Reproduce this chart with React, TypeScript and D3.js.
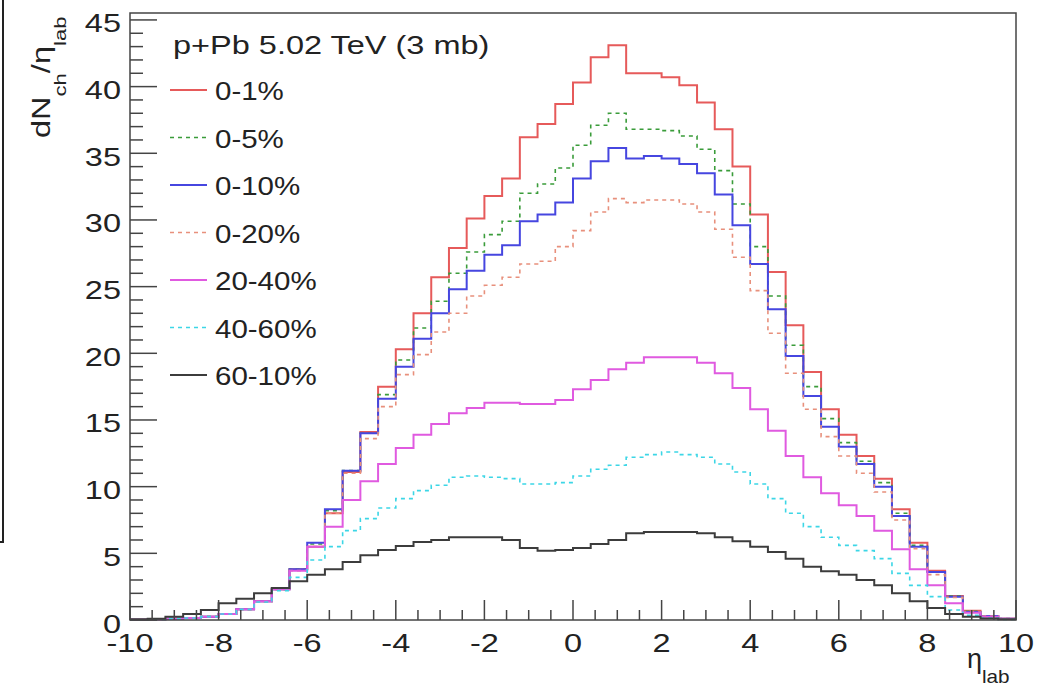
import React from "react";
import * as d3 from "d3";

// ---- data (bins of width 0.4 from -10 to 10) ----
const binLow = -10;
const binWidth = 0.4;

const seriesLabels = ["0-1%", "0-5%", "0-10%", "0-20%", "20-40%", "40-60%", "60-10%"];

const c0_1 = [0.02,0.05,0.1,0.15,0.25,0.45,0.8,1.4,2.3,3.8, 5.5,8.0,11.1,14.1,17.5,20.3,23.0,25.7,27.9,30.1, 31.8,33.1,36.2,37.2,38.7,40.3,42.2,43.1,41.0,41.0, 40.7,40.1,38.8,36.8,34.0,30.4,26.1,22.1,18.6,15.8, 13.9,12.3,10.6,8.3,5.8,3.7,1.8,0.7,0.3,0.1];
const c0_5 = [0.02,0.05,0.1,0.15,0.25,0.45,0.8,1.4,2.3,3.8, 5.7,8.2,11.2,14.0,16.9,19.5,21.9,23.9,26.0,27.6, 28.9,29.9,32.0,32.7,33.9,35.6,37.1,38.0,36.8,36.8, 36.7,36.3,35.3,33.7,31.2,28.0,24.3,20.6,17.5,15.1, 13.3,11.9,10.3,8.0,5.6,3.6,1.8,0.65,0.3,0.1];
const c0_10 = [0.02,0.05,0.1,0.15,0.25,0.45,0.8,1.4,2.3,3.8, 5.8,8.3,11.2,14.0,16.6,19.0,21.1,23.0,24.8,26.2, 27.4,28.1,29.9,30.4,31.3,33.1,34.4,35.4,34.6,34.8, 34.6,34.2,33.5,31.9,29.6,26.7,23.3,19.8,16.8,14.5, 13.0,11.7,10.0,7.8,5.5,3.6,1.75,0.6,0.3,0.1];
const c0_20 = [0.02,0.05,0.1,0.15,0.25,0.45,0.8,1.4,2.3,3.7, 5.5,8.0,11.0,13.6,16.0,18.4,19.9,21.6,23.0,24.3, 25.1,25.7,26.7,26.9,28.0,29.2,30.6,31.6,31.3,31.5, 31.5,31.2,30.6,29.3,27.2,24.7,21.5,18.5,15.8,13.75, 12.3,11.0,9.6,7.5,5.35,3.4,1.7,0.6,0.3,0.1];
const c20_40 = [0.02,0.05,0.1,0.15,0.25,0.45,0.8,1.4,2.3,3.7, 5.5,7.0,9.0,10.4,11.7,12.9,13.9,14.7,15.5,15.9, 16.3,16.3,16.2,16.2,16.5,17.3,18.0,18.8,19.3,19.7, 19.7,19.7,19.3,18.5,17.4,15.8,14.2,12.3,10.7,9.5, 8.6,7.8,6.7,5.3,3.8,2.6,1.25,0.55,0.25,0.1];
const c40_60 = [0.02,0.05,0.1,0.15,0.25,0.45,0.8,1.35,2.2,3.2, 4.5,5.5,6.7,7.6,8.4,9.1,9.7,10.1,10.7,10.8, 10.7,10.6,10.2,10.2,10.3,10.8,11.3,11.6,12.2,12.4, 12.6,12.4,12.2,11.7,11.1,10.2,9.1,8.0,7.0,6.2, 5.6,5.2,4.6,3.5,2.6,1.75,0.75,0.35,0.15,0.05];
const c60_100 = [0.05,0.1,0.25,0.45,0.75,1.25,1.6,2.0,2.4,2.9, 3.4,3.8,4.35,4.85,5.25,5.55,5.85,6.0,6.2,6.2, 6.2,6.0,5.4,5.2,5.25,5.4,5.7,6.0,6.5,6.6, 6.6,6.6,6.5,6.2,5.9,5.5,5.1,4.6,4.0,3.65, 3.4,3.0,2.6,2.0,1.4,0.9,0.45,0.25,0.12,0.05];

const seriesValues = [c0_1, c0_5, c0_10, c0_20, c20_40, c40_60, c60_100];
const seriesColors = ["#e65a5a", "#3a9c3a", "#4646e0", "#e8907c", "#e05ae0", "#3cd6e6", "#3c3c3c"];
const seriesDash = [null, "4 4", null, "4 4", null, "4 4", null];
const seriesWidth = [2, 1.6, 2, 1.6, 2, 1.6, 2];

const xTickLabels = [-10, -8, -6, -4, -2, 0, 2, 4, 6, 8, 10];
const yTickLabels = [0, 5, 10, 15, 20, 25, 30, 35, 40, 45];
const legendTitle = "p+Pb 5.02 TeV (3 mb)";

const FONT = "'Liberation Sans', Arial, Helvetica, sans-serif";

export default function App() {
  const W = 1054, H = 690;
  const left = 130, right = 1016, top = 13, bottom = 620;
  const x = d3.scaleLinear().domain([-10, 10]).range([left, right]);
  const y = d3.scaleLinear().domain([0, 45.52]).range([bottom, top]);

  const line = d3
    .line<[number, number]>()
    .x((d) => x(d[0]))
    .y((d) => y(d[1]))
    .curve(d3.curveStepAfter);

  const pathFor = (vals: number[]) => {
    const pts: [number, number][] = vals.map((v, i) => [binLow + i * binWidth, v]);
    pts.push([binLow + vals.length * binWidth, vals[vals.length - 1]]);
    return line(pts) || "";
  };

  const xMinor = d3.range(-10, 10.0001, 0.5).filter((v) => Math.abs(v / 2 - Math.round(v / 2)) > 1e-6);
  const yMinor = d3.range(0, 45.0001, 1).filter((v) => v % 5 !== 0);

  const legendRow0 = 90;
  const legendStep = 47.5;

  return (
    <svg width={W} height={H} style={{ position: "absolute", left: 0, top: 0, background: "#fff" }} fontFamily={FONT}>
      <rect x={0} y={0} width={W} height={H} fill="#fff" />
      {/* crop artifact at far left */}
      <path d="M3,0 V542 H0" fill="none" stroke="#222" strokeWidth={2} />

      {/* histograms */}
      {seriesValues.map((vals, i) => (
        <path
          key={i}
          d={pathFor(vals)}
          fill="none"
          stroke={seriesColors[i]}
          strokeWidth={seriesWidth[i]}
          strokeDasharray={seriesDash[i] || undefined}
        />
      ))}

      {/* frame */}
      <rect x={left} y={top} width={right - left} height={bottom - top} fill="none" stroke="#444" strokeWidth={1.5} />

      {/* x ticks */}
      {xTickLabels.map((t) => (
        <line key={"xM" + t} x1={x(t)} x2={x(t)} y1={bottom} y2={bottom - 20} stroke="#444" strokeWidth={1.5} />
      ))}
      {xMinor.map((t) => (
        <line key={"xm" + t} x1={x(t)} x2={x(t)} y1={bottom} y2={bottom - 10} stroke="#444" strokeWidth={1.5} />
      ))}
      {xTickLabels.map((t) => (
        <text key={"xl" + t} transform={`translate(${x(t)},652) scale(1.3,1)`} textAnchor="middle" fontSize={25} fill="#222">
          {t}
        </text>
      ))}

      {/* y ticks */}
      {yTickLabels.map((t) => (
        <line key={"yM" + t} x1={left} x2={left + 27} y1={y(t)} y2={y(t)} stroke="#444" strokeWidth={1.5} />
      ))}
      {yMinor.map((t) => (
        <line key={"ym" + t} x1={left} x2={left + 13} y1={y(t)} y2={y(t)} stroke="#444" strokeWidth={1.5} />
      ))}
      {yTickLabels.map((t) => (
        <text key={"yl" + t} transform={`translate(121,${y(t) + 12.5}) scale(1.3,1)`} textAnchor="end" fontSize={25} fill="#222">
          {t}
        </text>
      ))}

      {/* axis titles */}
      <text transform={`translate(967,668)`} fontSize={27} fill="#222">η</text>
      <text transform={`translate(982,683) scale(1.15,1)`} fontSize={18} fill="#222">lab</text>

      <text transform="translate(50,138) rotate(-90) scale(1.3,1)" fontSize={25} fill="#222">
        dN
        <tspan dy={16} fontSize={17}>ch</tspan>
        <tspan dy={-16}>/η</tspan>
        <tspan dy={16} fontSize={17}>lab</tspan>
      </text>

      {/* legend */}
      <text transform="translate(173,54) scale(1.3,1)" fontSize={25} fill="#222">{legendTitle}</text>
      {seriesLabels.map((lab, i) => {
        const cy = legendRow0 + i * legendStep;
        return (
          <g key={lab}>
            <line
              x1={170}
              x2={207}
              y1={cy}
              y2={cy}
              stroke={seriesColors[i]}
              strokeWidth={seriesWidth[i]}
              strokeDasharray={seriesDash[i] || undefined}
            />
            <text transform={`translate(215,${cy + 10}) scale(1.18,1)`} fontSize={25} fill="#222">
              {lab}
            </text>
          </g>
        );
      })}
    </svg>
  );
}
